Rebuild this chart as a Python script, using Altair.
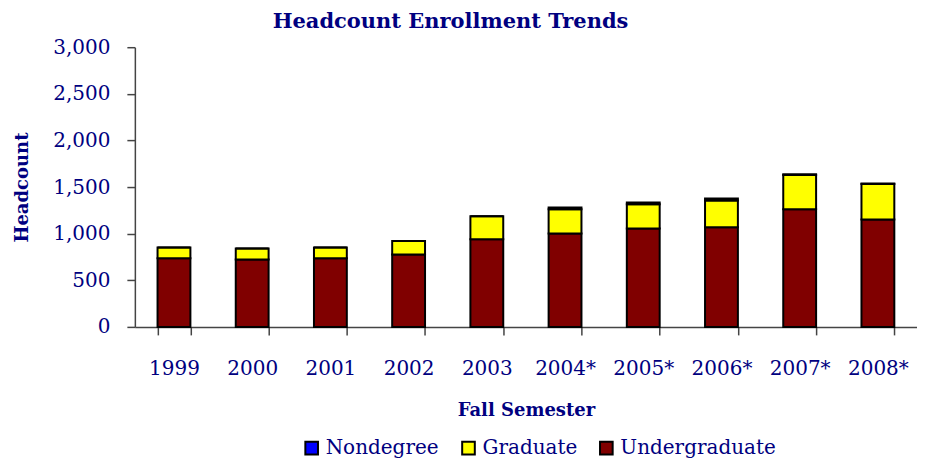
import altair as alt
import pandas as pd

years = ["1999", "2000", "2001", "2002", "2003", "2004*", "2005*", "2006*", "2007*", "2008*"]
undergraduate = [736, 722, 736, 776, 940, 1001, 1055, 1069, 1261, 1151]
graduate = [115, 118, 115, 146, 247, 261, 260, 287, 369, 383]
nondegree = [0, 0, 0, 0, 0, 18, 18, 20, 7, 3]

types = ["Nondegree", "Graduate", "Undergraduate"]
colors = ["#0000FF", "#FFFF00", "#800000"]
stack_order = {"Undergraduate": 0, "Graduate": 1, "Nondegree": 2}
y_ticks = [0, 500, 1000, 1500, 2000, 2500, 3000]

rows = []
for i, yr in enumerate(years):
    for t, vals in (("Undergraduate", undergraduate), ("Graduate", graduate), ("Nondegree", nondegree)):
        rows.append({"year": yr, "type": t, "value": vals[i], "ord": stack_order[t]})
df = pd.DataFrame(rows)

NAVY = "#000080"
FONT = "DejaVu Serif"

chart = alt.Chart(df).mark_bar(stroke="black", strokeWidth=2).encode(
    x=alt.X("year:N", sort=years,
            scale=alt.Scale(paddingInner=0.58, paddingOuter=0.29),
            axis=alt.Axis(title="Fall Semester", labelAngle=0, tickBand="extent",
                          tickSize=8, labelPadding=24, titlePadding=23,
                          labelFont=FONT, labelFontSize=20, labelColor=NAVY,
                          titleFont=FONT, titleFontSize=18, titleFontWeight="bold",
                          titleColor=NAVY, domainColor="#444444", tickColor="#444444",
                          domainWidth=1.5, tickWidth=1.5)),
    y=alt.Y("value:Q", stack="zero",
            scale=alt.Scale(domain=[0, 3000], nice=False),
            axis=alt.Axis(title="Headcount", values=y_ticks, format=",.0f", grid=False,
                          tickSize=8, labelPadding=17,
                          labelFont=FONT, labelFontSize=20, labelColor=NAVY,
                          titleFont=FONT, titleFontSize=18, titleFontWeight="bold",
                          titleColor=NAVY, titleX=-103,
                          domainColor="#444444", tickColor="#444444",
                          domainWidth=1.5, tickWidth=1.5)),
    color=alt.Color("type:N", scale=alt.Scale(domain=types, range=colors),
                    legend=alt.Legend(orient="none", legendX=167, legendY=391,
                                      direction="horizontal", title=None,
                                      symbolType="square", symbolSize=160,
                                      symbolStrokeColor="black", symbolStrokeWidth=2,
                                      labelFont=FONT, labelFontSize=20, labelColor=NAVY,
                                      columnPadding=18, labelOffset=4)),
    order=alt.Order("ord:Q"),
).properties(
    width=783,
    height=280,
    padding={"left": 5, "right": 0, "top": 3, "bottom": 0},
    title=alt.TitleParams("Headcount Enrollment Trends", font=FONT, fontSize=21,
                          fontWeight="bold", color=NAVY, anchor="middle",
                          frame="bounds", dx=-15, offset=5),
).configure_view(stroke=None)

chart.save("out.html", embed_options={"renderer": "svg", "actions": False})
